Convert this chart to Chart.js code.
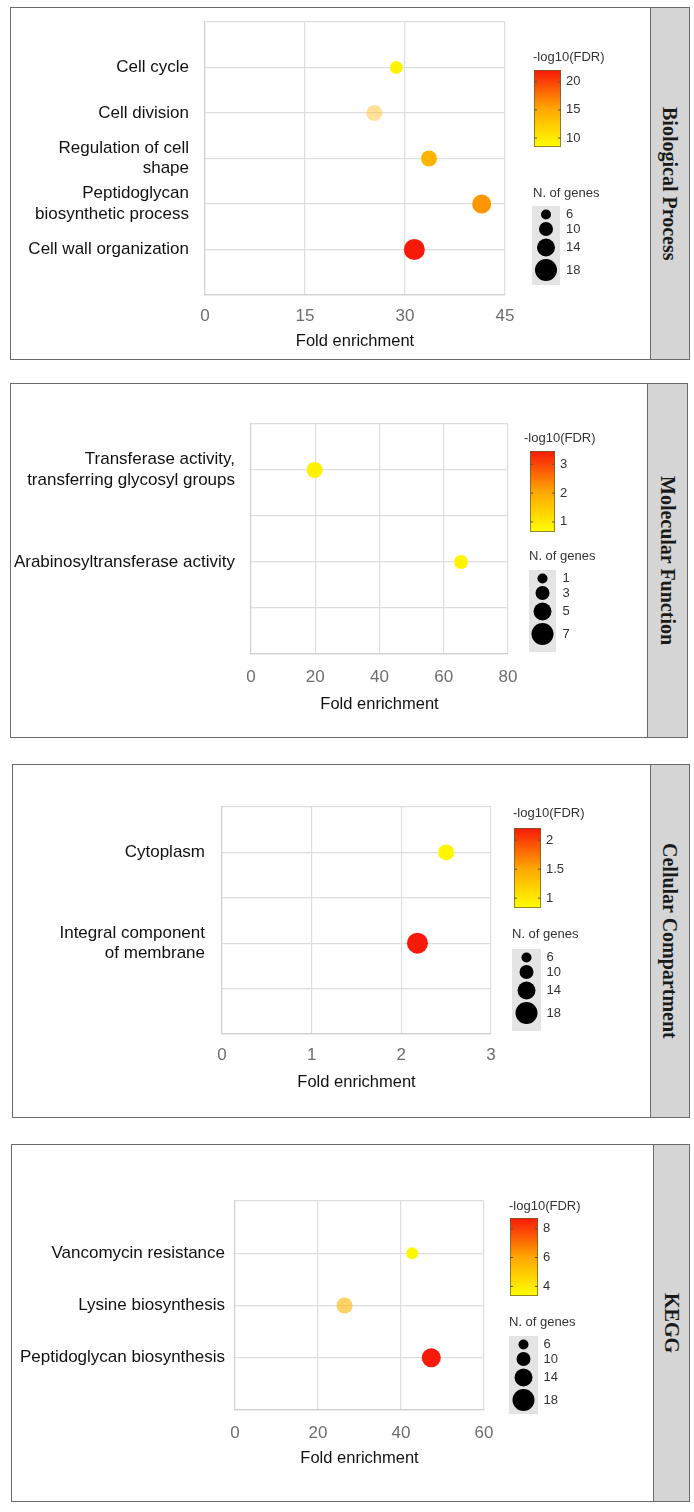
<!DOCTYPE html>
<html lang="en">
<head>
  <meta charset="UTF-8">
  <title>GO and KEGG enrichment bubble charts</title>
  <script src="https://cdn.jsdelivr.net/npm/chart.js"></script>
  <style>
    body { margin: 0; background: #fff; width: 694px; height: 1512px; position: relative; overflow: hidden; }
    .panel { position: absolute; box-sizing: border-box; border: 1.5px solid #6b6b6b; background: #fff; }
    .strip { position: absolute; top: 0; bottom: 0; right: 0; background: #d5d5d5; border-left: 1.5px solid #6b6b6b;
             display: flex; align-items: center; justify-content: center; }
    .strip span { writing-mode: vertical-rl; font: bold 20px "Liberation Serif", "Times New Roman", serif; color: #1a1a1a; }
    canvas { position: absolute; }
  </style>
</head>
<body>
  <script>
    // Biological Process
    const bpTerms = ['Cell cycle', 'Cell division', 'Regulation of cell\nshape', 'Peptidoglycan\nbiosynthetic process', 'Cell wall organization'];
    const bpFold = [28.7, 25.4, 33.6, 41.5, 31.4];
    const bpFdr = [9.3, 14, 14, 16, 22];
    const bpGenes = [9, 12, 12, 15, 17];
    const bpXTicks = [0, 15, 30, 45];
    const bpFdrRange = [8.4, 22.1];
    const bpFdrTicks = [10, 15, 20];
    const bpGeneTicks = [6, 10, 14, 18];

    // Molecular Function (blank rows are empty categories)
    const mfTerms = ['Transferase activity,\ntransferring glycosyl groups', '', 'Arabinosyltransferase activity', ''];
    const mfFold = [19.8, null, 65.4, null];
    const mfFdr = [0.9, null, 0.8, null];
    const mfGenes = [4, null, 3, null];
    const mfXTicks = [0, 20, 40, 60, 80];
    const mfFdrRange = [0.65, 3.46];
    const mfFdrTicks = [1, 2, 3];
    const mfGeneTicks = [1, 3, 5, 7];

    // Cellular Compartment
    const ccTerms = ['Cytoplasm', '', 'Integral component\nof membrane', ''];
    const ccFold = [2.5, null, 2.18, null];
    const ccFdr = [0.9, null, 2.2, null];
    const ccGenes = [12, null, 17, null];
    const ccXTicks = [0, 1, 2, 3];
    const ccFdrRange = [0.83, 2.21];
    const ccFdrTicks = [1, 1.5, 2];
    const ccGeneTicks = [6, 10, 14, 18];

    // KEGG
    const kgTerms = ['Vancomycin resistance', 'Lysine biosynthesis', 'Peptidoglycan biosynthesis'];
    const kgFold = [42.7, 26.4, 47.3];
    const kgFdr = [3.5, 5.6, 8.7];
    const kgGenes = [8, 12, 15];
    const kgXTicks = [0, 20, 40, 60];
    const kgFdrRange = [3.33, 8.74];
    const kgFdrTicks = [4, 6, 8];
    const kgGeneTicks = [6, 10, 14, 18];

    // colour bar stops, yellow (low) -> red (high)
    const stops = [[0, [255, 255, 0]], [0.5, [255, 165, 0]], [1, [248, 24, 8]]];

    const panels = [
      { name: 'Biological Process', terms: bpTerms, fold: bpFold, fdr: bpFdr, genes: bpGenes,
        xTicks: bpXTicks, fdrRange: bpFdrRange, fdrTicks: bpFdrTicks, geneTicks: bpGeneTicks,
        alpha: [1, 0.4, 1, 1, 1],
        box: { x: 10, y: 7, r: 690, b: 360, strip: 650 },
        plot: { l: 205, r: 505, t: 22, b: 295 }, labelPad: 16, tickY: 316, titleY: 341,
        cbar: { x: 534, y: 70, w: 27, h: 77, titleX: 533, titleY: 57 },
        size: { x: 532, y: 206, w: 28, h: 79, titleX: 533, titleY: 193 } },
      { name: 'Molecular Function', terms: mfTerms, fold: mfFold, fdr: mfFdr, genes: mfGenes,
        xTicks: mfXTicks, fdrRange: mfFdrRange, fdrTicks: mfFdrTicks, geneTicks: mfGeneTicks,
        alpha: [1, 1, 1, 1],
        box: { x: 10, y: 383, r: 688, b: 738, strip: 647 },
        plot: { l: 251, r: 508, t: 424, b: 654 }, labelPad: 16, tickY: 677, titleY: 704,
        cbar: { x: 530, y: 451, w: 25, h: 81, titleX: 524, titleY: 438 },
        size: { x: 529, y: 570, w: 27, h: 82, titleX: 529, titleY: 556 } },
      { name: 'Cellular Compartment', terms: ccTerms, fold: ccFold, fdr: ccFdr, genes: ccGenes,
        xTicks: ccXTicks, fdrRange: ccFdrRange, fdrTicks: ccFdrTicks, geneTicks: ccGeneTicks,
        alpha: [1, 1, 1, 1],
        box: { x: 12, y: 764, r: 690, b: 1118, strip: 650 },
        plot: { l: 222, r: 491, t: 807, b: 1034 }, labelPad: 17, tickY: 1055, titleY: 1082,
        cbar: { x: 514, y: 828, w: 27, h: 80, titleX: 513, titleY: 813 },
        size: { x: 512, y: 949, w: 29, h: 82, titleX: 512, titleY: 934 } },
      { name: 'KEGG', terms: kgTerms, fold: kgFold, fdr: kgFdr, genes: kgGenes,
        xTicks: kgXTicks, fdrRange: kgFdrRange, fdrTicks: kgFdrTicks, geneTicks: kgGeneTicks,
        alpha: [1, 0.6, 1],
        box: { x: 11, y: 1144, r: 690, b: 1502, strip: 653 },
        plot: { l: 235, r: 484, t: 1201, b: 1410 }, labelPad: 10, tickY: 1433, titleY: 1458,
        cbar: { x: 510, y: 1218, w: 28, h: 78, titleX: 509, titleY: 1206 },
        size: { x: 509, y: 1336, w: 29, h: 78, titleX: 509, titleY: 1322 } }
    ];

    Chart.defaults.font.family = '"Liberation Sans", Arial, sans-serif';

    function fdrColor(v, range, alpha) {
      let t = (v - range[0]) / (range[1] - range[0]);
      t = Math.max(0, Math.min(1, t));
      let i = t <= 0.5 ? 0 : 1;
      const a = stops[i], b = stops[i + 1];
      const f = (t - a[0]) / (b[0] - a[0]);
      const c = a[1].map((x, k) => Math.round(x + (b[1][k] - x) * f));
      return `rgba(${c[0]}, ${c[1]}, ${c[2]}, ${alpha})`;
    }

    // bubble radius, legend range maps to 5..11 px
    function radius(n, ticks) {
      const lo = ticks[0], hi = ticks[ticks.length - 1];
      return 5 + 6 * (n - lo) / (hi - lo);
    }

    // draws the -log10(FDR) colour bar and the N. of genes size key
    const legendPlugin = {
      id: 'enrichLegends',
      afterDraw(chart, args, opts) {
        const p = opts.panel;
        const ctx = chart.ctx;
        ctx.save();
        ctx.translate(-p.box.x, -p.box.y);

        const cb = p.cbar;
        const [lo, hi] = p.fdrRange;
        const g = ctx.createLinearGradient(0, cb.y + cb.h, 0, cb.y);
        stops.forEach(s => g.addColorStop(s[0], `rgb(${s[1].join(',')})`));
        ctx.fillStyle = g;
        ctx.fillRect(cb.x, cb.y, cb.w, cb.h);
        ctx.strokeStyle = 'rgba(110, 95, 40, 0.75)';
        ctx.lineWidth = 1;
        ctx.strokeRect(cb.x + 0.5, cb.y + 0.5, cb.w - 1, cb.h - 1);

        ctx.font = '13px "Liberation Sans", Arial, sans-serif';
        ctx.fillStyle = '#333';
        ctx.textBaseline = 'middle';
        ctx.textAlign = 'left';
        ctx.fillText('-log10(FDR)', cb.titleX, cb.titleY);

        ctx.strokeStyle = '#555';
        p.fdrTicks.forEach(v => {
          const y = cb.y + cb.h - (v - lo) / (hi - lo) * cb.h;
          ctx.beginPath();
          ctx.moveTo(cb.x, y); ctx.lineTo(cb.x + 3, y);
          ctx.moveTo(cb.x + cb.w - 3, y); ctx.lineTo(cb.x + cb.w, y);
          ctx.stroke();
          ctx.fillText(String(v), cb.x + cb.w + 5, y);
        });

        const sz = p.size;
        ctx.fillText('N. of genes', sz.titleX, sz.titleY);
        ctx.fillStyle = '#e4e4e4';
        ctx.fillRect(sz.x, sz.y, sz.w, sz.h);
        const cx = sz.x + sz.w / 2;
        let y = sz.y + 8.5, prev = null;
        p.geneTicks.forEach(n => {
          const r = radius(n, p.geneTicks);
          if (prev !== null) y += prev + r + 2.5;
          ctx.fillStyle = '#000';
          ctx.beginPath();
          ctx.arc(cx, y, r, 0, Math.PI * 2);
          ctx.fill();
          ctx.fillStyle = '#333';
          ctx.fillText(String(n), cx + 20, y);
          prev = r;
        });
        ctx.restore();
      }
    };

    function makePanel(p) {
      const div = document.createElement('div');
      div.className = 'panel';
      Object.assign(div.style, {
        left: p.box.x + 'px', top: p.box.y + 'px',
        width: (p.box.r - p.box.x) + 'px', height: (p.box.b - p.box.y) + 'px'
      });
      const strip = document.createElement('div');
      strip.className = 'strip';
      strip.style.width = (p.box.r - p.box.strip - 1.5) + 'px';
      const span = document.createElement('span');
      span.textContent = p.name;
      strip.appendChild(span);
      div.appendChild(strip);
      document.body.appendChild(div);

      const cw = p.box.strip - p.box.x;
      const ch = p.box.b - p.box.y;
      const canvas = document.createElement('canvas');
      canvas.width = cw;
      canvas.height = ch;
      Object.assign(canvas.style, { left: p.box.x + 'px', top: p.box.y + 'px', width: cw + 'px', height: ch + 'px' });
      document.body.appendChild(canvas);

      const points = [], radii = [], colors = [];
      p.terms.forEach((t, i) => {
        if (p.fold[i] == null) return;
        points.push({ x: p.fold[i], y: i + 1 });
        radii.push(radius(p.genes[i], p.geneTicks));
        colors.push(fdrColor(p.fdr[i], p.fdrRange, p.alpha[i]));
      });

      const xH = p.titleY - p.plot.b + 9.9;
      const gridColor = '#dedede';

      new Chart(canvas, {
        type: 'scatter',
        data: {
          datasets: [{
            data: points,
            pointRadius: radii,
            pointHoverRadius: radii,
            pointBackgroundColor: colors,
            pointBorderWidth: 0,
            borderWidth: 0
          }]
        },
        options: {
          responsive: false,
          animation: false,
          events: [],
          layout: {
            padding: {
              top: p.plot.t - p.box.y,
              right: cw - (p.plot.r - p.box.x),
              bottom: ch - (p.plot.b - p.box.y) - xH,
              left: 0
            }
          },
          plugins: {
            legend: { display: false },
            tooltip: { enabled: false },
            enrichLegends: { panel: p }
          },
          scales: {
            x: {
              type: 'linear',
              min: p.xTicks[0],
              max: p.xTicks[p.xTicks.length - 1],
              ticks: {
                stepSize: p.xTicks[1] - p.xTicks[0],
                color: '#6e6e6e',
                font: { size: 17, lineHeight: 1.2 },
                padding: p.tickY - p.plot.b - 10.2
              },
              grid: { color: gridColor, lineWidth: 1.2, drawTicks: false },
              border: { color: '#d0d0d0', width: 1.2 },
              title: { display: true, text: 'Fold enrichment', color: '#111', font: { size: 16.5, lineHeight: 1.2 }, padding: 0 },
              afterFit(s) { s.height = xH; }
            },
            y: {
              type: 'linear',
              reverse: true,
              min: 0,
              max: p.terms.length + 1,
              ticks: {
                stepSize: 1,
                autoSkip: false,
                color: '#111',
                font: { size: 17, lineHeight: 1.2 },
                padding: p.labelPad,
                callback: v => {
                  const t = p.terms[v - 1];
                  return t ? t.split('\n') : '';
                }
              },
              grid: { color: gridColor, lineWidth: 1.2, drawTicks: false },
              border: { color: '#d0d0d0', width: 1.2 },
              afterFit(s) {
                s.width = p.plot.l - p.box.x;
                s.paddingTop = 0;
                s.paddingBottom = 0;
              }
            }
          }
        },
        plugins: [legendPlugin]
      });
    }

    panels.forEach(makePanel);
  </script>
</body>
</html>
